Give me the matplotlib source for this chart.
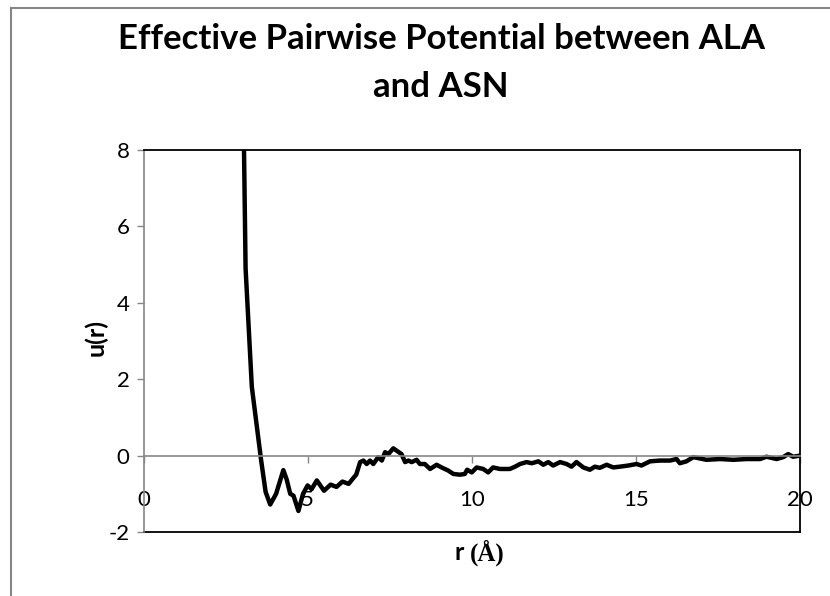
import matplotlib
matplotlib.use("Agg")
import matplotlib.pyplot as plt
from matplotlib.lines import Line2D

plt.rcParams['font.family'] = ['Lato', 'DejaVu Sans']
plt.rcParams['axes.unicode_minus'] = False

# ==========================================
# DADOS
# ==========================================
r = [3.00, 3.11, 3.30, 3.58, 3.72, 3.86, 4.04, 4.26, 4.36, 4.47, 4.57, 4.72,
     4.86, 5.00, 5.12, 5.28, 5.50, 5.70, 5.88, 6.06, 6.25, 6.40, 6.48, 6.60,
     6.70, 6.80, 6.90, 7.00, 7.15, 7.26, 7.36, 7.46, 7.61, 7.71, 7.86, 7.97,
     8.07, 8.17, 8.32, 8.42, 8.57, 8.73, 8.93, 9.08, 9.28, 9.44, 9.64, 9.79,
     9.86, 10.00, 10.15, 10.35, 10.50, 10.65, 10.86, 11.16, 11.32, 11.47,
     11.67, 11.83, 12.03, 12.18, 12.33, 12.48, 12.69, 12.89, 13.04, 13.19,
     13.40, 13.60, 13.75, 13.90, 14.11, 14.31, 14.51, 14.77, 15.02, 15.17,
     15.43, 15.73, 16.04, 16.24, 16.34, 16.54, 16.75, 17.15, 17.56, 17.97,
     18.37, 18.78, 18.98, 19.29, 19.49, 19.64, 19.79, 20.00]
u = [12.0, 4.9, 1.8, -0.1, -0.95, -1.28, -1.0, -0.38, -0.62, -1.0, -1.05, -1.45,
     -1.0, -0.78, -0.88, -0.65, -0.92, -0.76, -0.82, -0.68, -0.74, -0.58, -0.5, -0.17,
     -0.13, -0.22, -0.13, -0.22, -0.04, -0.13, 0.09, 0.04, 0.19, 0.13, 0.04, -0.17,
     -0.13, -0.17, -0.11, -0.22, -0.22, -0.35, -0.24, -0.31, -0.39, -0.48, -0.50, -0.48,
     -0.37, -0.44, -0.31, -0.35, -0.44, -0.31, -0.35, -0.35, -0.29, -0.22,
     -0.17, -0.20, -0.15, -0.24, -0.17, -0.26, -0.17, -0.22, -0.29, -0.17,
     -0.31, -0.37, -0.29, -0.32, -0.24, -0.31, -0.29, -0.26, -0.22, -0.26,
     -0.15, -0.13, -0.13, -0.09, -0.20, -0.15, -0.04, -0.11, -0.09, -0.11,
     -0.09, -0.09, -0.03, -0.09, -0.04, 0.04, -0.03, 0.0]

x_ticks = [0, 5, 10, 15, 20]
y_ticks = [-2, 0, 2, 4, 6, 8]

titulo = "Effective Pairwise Potential between ALA\nand ASN"

# ==========================================
# FIGURA
# ==========================================
W, H = 830, 596
fig = plt.figure(figsize=(W / 100, H / 100), dpi=100)
ax = fig.add_axes([143.5 / W, 1 - 532 / H, (800 - 143.5) / W, (532 - 150) / H])

cinza = "#868686"

ax.plot(r, u, color="black", lw=3.2, solid_joinstyle="round")
ax.set_xlim(0, 20)
ax.set_ylim(-2, 8)
ax.set_xticks(x_ticks)
ax.set_yticks(y_ticks)

# eixo x passa no zero
ax.spines['bottom'].set_position(('data', 0))
ax.spines['bottom'].set_color(cinza)
ax.spines['bottom'].set_linewidth(1.2)
ax.spines['left'].set_color(cinza)
ax.spines['left'].set_linewidth(1.2)
ax.spines['top'].set_color("black")
ax.spines['right'].set_color("black")
ax.spines['top'].set_linewidth(1.3)
ax.spines['right'].set_linewidth(1.3)

# borda inferior da área do gráfico
ax.add_line(Line2D([0, 1], [0, 0], transform=ax.transAxes, color="black",
                   lw=1.3, clip_on=False))

ax.tick_params(axis="x", direction="out", length=5, width=1, color=cinza,
               pad=20, labelsize=16)
ax.tick_params(axis="y", direction="out", length=5, width=1, color=cinza,
               pad=5, labelsize=16)

fig.text(441 / W, 1 - 63 / H, titulo, ha="center", va="center",
         fontsize=25, fontweight="bold", linespacing=1.6)

fig.text(96 / W, 1 - 338 / H, "u(r)", rotation=90, ha="center", va="center",
         fontsize=18, fontweight="bold")
fig.text(470 / W, 1 - 553 / H, "r ", ha="right", va="center",
         fontsize=18, fontweight="bold")
fig.text(470 / W, 1 - 553 / H, "(Å)", ha="left", va="center",
         fontsize=18, fontweight="bold", family="Liberation Serif")

# borda da área do gráfico (parcialmente cortada)
fig.add_artist(Line2D([10.5 / W, 10.5 / W], [0, 1 - 7.5 / H], color=cinza, lw=1.5))
fig.add_artist(Line2D([10.5 / W, 1], [1 - 7.5 / H, 1 - 7.5 / H], color=cinza, lw=1.5))

fig.savefig("out.png", dpi=100)
